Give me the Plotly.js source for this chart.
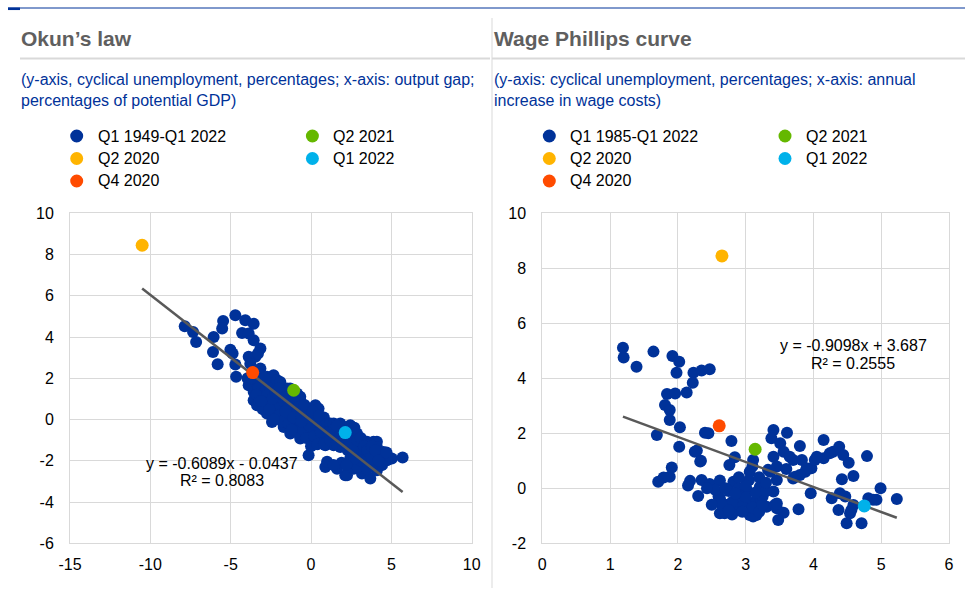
<!DOCTYPE html>
<html><head><meta charset="utf-8">
<script src="https://cdn.plot.ly/plotly-3.0.1.min.js"></script>
<style>html,body{margin:0;padding:0;background:#fff}#chart{width:965px;height:592px}</style>
</head><body><div id="chart"></div>
<script>
// ---------- DATA ----------
const okunMainName = 'Q1 1949-Q1 2022';
const phillipsMainName = 'Q1 1985-Q1 2022';
const highlightNames = ['Q2 2020', 'Q4 2020', 'Q2 2021', 'Q1 2022'];
const highlightColors = ['#FFB400', '#FF4B00', '#65B800', '#00B1EA'];
const mainColor = '#003299';

// [output gap, cyclical unemployment]
const okunMain = [
[-7.86,4.52],[-7.34,4.25],[-7.15,3.76],[-6.06,4.0],[-5.47,4.78],[-5.53,4.41],[-6.1,3.28],[-5.81,2.68],
[-5.02,3.39],[-4.88,3.2],[-4.71,2.67],[-4.66,2.07],[-4.71,5.06],[-4.09,4.81],[-3.57,4.65],[-4.29,4.2],
[-3.88,4.17],[-3.57,3.84],[-3.15,3.44],[-3.46,3.04],[-3.88,3.04],[-3.78,2.71],[-3.15,2.47],[-3.3,3.2],
[-3.6,2.3],[-3.88,1.66],[-3.57,1.34],[-3.95,2.0],[-3.4,1.9],[-3.2,2.2],[-3.0,1.8],[-3.3,1.5],
[-3.57,0.94],[-3.36,0.69],[-3.1,1.2],[-2.9,1.0],[-2.8,1.5],[-2.74,2.07],[-2.33,2.15],[-2.6,1.7],
[-2.5,1.2],[-2.3,1.6],[-2.1,1.9],[-1.91,1.82],[-2.74,0.29],[-2.5,0.7],[-2.43,-0.12],[-2.2,0.4],
[-2.1,1.0],[-2.0,0.6],[-1.8,1.3],[-1.7,0.9],[-1.9,0.2],[-1.7,-0.36],[-1.5,0.1],[-1.4,0.6],
[-1.5,1.5],[-1.3,1.1],[-1.2,0.4],[-1.29,-0.68],[-1.1,-0.2],[-1.0,0.8],[-0.87,1.26],[-0.67,1.1],
[-0.67,0.94],[-0.9,0.3],[-0.8,-0.4],[-0.67,-0.92],[-0.5,0.5],[-0.4,-0.1],[-0.3,0.3],[-0.15,0.45],
[0.27,0.69],[0.47,0.53],[0.06,-1.08],[0.58,-1.0],[0.0,0.1],[0.1,-0.4],[0.3,0.1],[-0.2,-0.7],
[0.4,-0.5],[0.6,-0.2],[0.8,0.1],[0.9,-0.6],[1.0,-0.2],[0.7,-0.9],[-0.15,-1.73],[0.89,-1.25],
[1.2,-0.19],[1.41,-0.19],[1.82,-0.19],[2.24,-0.36],[1.41,-1.25],[1.5,-0.6],[1.7,-0.9],[1.9,-0.5],
[2.1,-1.0],[1.3,-0.9],[2.44,-0.28],[2.65,-0.68],[2.86,-0.68],[2.5,-1.2],[2.8,-1.1],[1.82,-1.33],
[2.3,-1.5],[2.85,-1.57],[3.0,-1.3],[3.27,-1.08],[3.48,-1.08],[3.89,-1.08],[4.1,-1.08],[4.1,-1.33],
[4.51,-1.57],[4.93,-1.89],[5.03,-1.89],[5.7,-1.84],[4.73,-1.97],[3.48,-1.73],[3.2,-1.5],[3.7,-1.4],
[3.9,-1.7],[4.3,-1.8],[0.89,-2.3],[1.0,-2.05],[1.62,-2.38],[2.13,-2.7],[2.24,-2.7],[2.65,-2.38],
[3.17,-2.62],[3.69,-2.86],[4.1,-2.46],[4.42,-2.21],[2.44,-1.89],[3.27,-2.05],[3.89,-2.13],[2.9,-2.3],
[3.5,-2.4],[1.9,-2.1],
[-3.7,2.0],[-3.4,1.2],[-3.2,0.9],[-3.0,0.5],[-2.9,2.0],[-2.7,1.2],[-2.6,0.5],[-2.4,1.0],
[-2.2,1.3],[-2.0,1.5],[-2.0,0.2],[-1.8,-0.1],[-1.6,1.1],[-1.6,0.4],[-1.4,-0.2],[-1.3,1.5],
[-1.1,0.1],[-1.0,1.1],[-0.9,-0.6],[-0.8,0.6],[-0.6,0.2],[-0.5,-0.5],[-0.4,0.7],[-0.3,-0.9],
[-0.1,-0.3],[0.0,-1.3],[0.1,0.4],[0.2,-0.8],[0.4,-1.2],[0.5,0.2],[0.6,-0.6],[0.8,-1.2],
[1.1,-0.6],[1.2,-1.0],[1.4,-0.5],[1.6,-1.2],[1.6,-0.3],[1.8,-0.8],[2.0,-1.3],[2.2,-0.7],
[2.4,-1.0],[2.6,-1.5],[2.7,-0.4],[2.9,-1.0],[3.1,-0.9],[3.3,-1.3],[3.5,-1.5],[3.6,-1.9],
[3.8,-1.3],[4.0,-1.5],[4.2,-2.0],[3.1,-2.0],[2.7,-1.9],[2.2,-2.2],[1.4,-2.2],[4.7,-1.6],
[-0.6,-0.1],[-1.2,-0.5],[-2.3,0.0],[-3.1,0.9]
];
// Q2 2020, Q4 2020, Q2 2021, Q1 2022
const okunHighlights = [[-10.51,8.45],[-3.63,2.28],[-1.08,1.42],[2.13,-0.63]];

// [annual increase in wage costs, cyclical unemployment]
const phillipsMain = [
[1.19,5.11],[1.2,4.76],[1.39,4.42],[1.64,4.97],[1.92,4.81],[2.02,4.6],[1.98,4.2],[2.23,4.2],
[2.35,4.28],[2.47,4.33],[2.22,3.84],[1.84,3.43],[1.96,3.45],[2.13,3.48],[1.81,3.03],[1.88,2.85],
[1.88,2.48],[2.03,2.22],[1.69,1.94],[2.45,2.0],[2.79,1.72],[2.02,1.51],[2.28,1.37],[2.34,1.0],
[2.84,1.13],[2.76,0.85],[3.11,1.03],[3.06,0.6],[1.91,0.76],[1.88,0.42],[1.79,0.39],[1.71,0.24],
[2.18,0.27],[2.35,0.3],[2.3,-0.28],[2.47,0.16],[2.62,0.28],[2.62,-0.36],[2.62,-0.91],[2.69,-0.91],
[2.82,0.24],[2.87,-0.36],[2.87,-0.79],[3.02,-0.06],[3.06,-0.97],[3.16,-0.97],[3.21,0.06],[3.16,-0.42],
[3.31,-0.67],[3.41,-0.12],[3.43,-0.61],[3.56,-0.89],[3.48,-1.15],[3.78,-0.76],[2.6,-0.3],[3.11,-1.03],
[3.06,-0.55],[3.46,-0.73],[3.46,-0.55],[2.75,-0.1],[2.95,-0.5],[2.7,-0.6],[3.0,-0.3],[2.9,0.0],
[3.1,-0.7],[3.25,-0.3],[2.8,-0.95],[2.55,-0.05],[3.05,0.3],[3.1,0.8],[3.2,-0.85],[3.41,2.12],
[3.38,1.82],[3.61,2.02],[3.51,1.64],[3.8,1.54],[3.41,1.15],[3.56,1.33],[3.65,1.15],[3.33,0.67],
[3.46,0.79],[3.46,0.3],[3.73,0.42],[3.83,1.03],[3.88,0.6],[3.97,0.73],[4.02,1.03],[4.15,1.76],
[4.15,1.09],[4.29,1.33],[4.38,1.51],[4.44,1.21],[4.52,0.93],[4.79,1.17],[4.42,0.33],[4.59,0.45],
[3.36,0.6],[3.7,1.03],[3.9,0.73],[3.8,0.48],[3.7,0.36],[4.05,1.15],[4.24,1.27],[3.6,0.7],
[3.96,-0.18],[4.27,-0.36],[4.39,-0.18],[4.47,-0.3],[4.37,-0.79],[4.54,-0.91],[4.49,-1.27],[4.71,-1.27],
[4.59,-0.61],[4.81,-0.36],[4.93,-0.42],[4.99,0.0],[5.23,-0.39],[4.88,-0.42],[4.56,-0.79],[2.25,1.33],
[2.33,0.97],[2.43,0.0],[2.15,0.1],[2.4,2.02],[2.7,0.0],[2.8,-0.5],
[2.65,-0.6],[2.75,-0.8],[2.85,-0.2],[2.95,-0.85],[3.0,0.1],[3.15,-0.15],[3.25,-0.6],[3.3,-0.1],
[2.5,-0.6],[2.9,0.4],[3.2,0.4],[3.3,0.2]
];
const phillipsHighlights = [[2.65,8.45],[2.61,2.27],[3.14,1.42],[4.75,-0.64]];

const okunTrend = {slope: -0.6089, intercept: -0.0437, r2: 0.8083};
const phillipsTrend = {slope: -0.9098, intercept: 3.687, r2: 0.2555};

const titles = ['Okun’s law', 'Wage Phillips curve'];
const subtitles = [
  '(y-axis, cyclical unemployment, percentages; x-axis: output gap;<br>percentages of potential GDP)',
  '(y-axis: cyclical unemployment, percentages; x-axis: annual<br>increase in wage costs)'
];
const xTicks = [[-15,-10,-5,0,5,10],[0,1,2,3,4,5,6]];
const yTicks = [[-6,-4,-2,0,2,4,6,8,10],[-2,0,2,4,6,8,10]];

// ---------- RENDER ----------
const W = 965, H = 592;
const FONT = 'Arial, "Liberation Sans", sans-serif';
const px = x => x / W;
const py = y => 1 - y / H;

function eqText(t) {
  return 'y = ' + t.slope + 'x ' + (t.intercept < 0 ? '- ' : '+ ') + Math.abs(t.intercept);
}

function panelTraces(main, highs, trend, xa, ya, mainName) {
  const tr = [];
  tr.push({x: main.map(p => p[0]), y: main.map(p => p[1]), type: 'scatter', mode: 'markers',
    xaxis: xa, yaxis: ya, name: mainName, showlegend: false,
    marker: {color: mainColor, size: 12, line: {width: 0}}, hoverinfo: 'x+y'});
  const allX = main.concat(highs).map(p => p[0]);
  const xmin = Math.min(...allX), xmax = Math.max(...allX);
  tr.push({x: [xmin, xmax], y: [xmin, xmax].map(v => trend.slope * v + trend.intercept),
    type: 'scatter', mode: 'lines', xaxis: xa, yaxis: ya, showlegend: false,
    line: {color: '#595959', width: 2.5}, hoverinfo: 'skip'});
  highs.forEach((p, i) => tr.push({x: [p[0]], y: [p[1]], type: 'scatter', mode: 'markers',
    xaxis: xa, yaxis: ya, name: highlightNames[i], showlegend: false,
    marker: {color: highlightColors[i], size: 13, line: {width: 0}}}));
  return tr;
}

const data = [].concat(
  panelTraces(okunMain, okunHighlights, okunTrend, 'x', 'y', okunMainName),
  panelTraces(phillipsMain, phillipsHighlights, phillipsTrend, 'x2', 'y2', phillipsMainName)
);

const shapes = [];
const annotations = [];
const line = (x0, y0, x1, y1, color, width) => shapes.push({type: 'line', xref: 'paper', yref: 'paper',
  x0: px(x0), y0: py(y0), x1: px(x1), y1: py(y1), line: {color: color, width: width}});

// frame decorations
line(8, 8, 965, 8, '#003299', 1);
line(8, 8.8, 20, 8.8, '#003299', 2.5);
line(20, 58.5, 490, 58.5, '#d9d9d9', 2);
line(492, 58.5, 965, 58.5, '#d9d9d9', 2);
line(492, 18, 492, 588, '#d9d9d9', 1);

const panels = [
  {left: 20, dotX: 76.7, textX: 96.7, mainName: okunMainName},
  {left: 493, dotX: 549.3, textX: 569, mainName: phillipsMainName}
];
const colStep = 235.7, rowY = [136, 158.5, 181];

panels.forEach((p, k) => {
  annotations.push({xref: 'paper', yref: 'paper', x: px(p.left), y: py(38.5), xanchor: 'left', yanchor: 'middle',
    text: '<b>' + titles[k] + '</b>', showarrow: false, borderpad: 0,
    font: {family: FONT, size: 21, color: '#5f5f5f'}});
  annotations.push({xref: 'paper', yref: 'paper', x: px(p.left), y: py(90.5), xanchor: 'left', yanchor: 'middle',
    text: subtitles[k], showarrow: false, align: 'left', borderpad: 0,
    font: {family: FONT, size: 16, color: '#003299'}});
  const entries = [{name: p.mainName, color: mainColor}].concat(
    highlightNames.map((n, i) => ({name: n, color: highlightColors[i]})));
  entries.forEach((e, i) => {
    const col = i < 3 ? 0 : 1, row = i < 3 ? i : i - 3;
    const cx = p.dotX + col * colStep, cy = rowY[row], r = 6.5;
    shapes.push({type: 'circle', xref: 'paper', yref: 'paper', x0: px(cx - r), x1: px(cx + r),
      y0: py(cy + r), y1: py(cy - r), fillcolor: e.color, line: {width: 0}});
    annotations.push({xref: 'paper', yref: 'paper', x: px(p.textX + col * colStep), y: py(cy), xanchor: 'left',
      yanchor: 'middle', text: e.name, showarrow: false, borderpad: 0,
      font: {family: FONT, size: 16, color: '#000'}});
  });
});

// trend equations
[[okunTrend, 221.7, 463.3, 480], [phillipsTrend, 853, 345.7, 363.3]].forEach(a => {
  annotations.push({xref: 'paper', yref: 'paper', x: px(a[1]), y: py(a[2]), xanchor: 'center', yanchor: 'middle',
    text: eqText(a[0]), showarrow: false, borderpad: 0, font: {family: FONT, size: 16, color: '#000'}});
  annotations.push({xref: 'paper', yref: 'paper', x: px(a[1]), y: py(a[3]), xanchor: 'center', yanchor: 'middle',
    text: 'R² = ' + a[0].r2, showarrow: false, borderpad: 0, font: {family: FONT, size: 16, color: '#000'}});
});

const axCommon = {showgrid: true, gridcolor: '#d9d9d9', gridwidth: 1, zeroline: false,
  showline: true, linecolor: '#d9d9d9', linewidth: 1, mirror: true,
  tickfont: {family: FONT, size: 16, color: '#000'}, tickmode: 'array', fixedrange: true,
  ticks: 'outside', tickcolor: 'rgba(0,0,0,0)'};
const tt = arr => arr.map(v => String(v));

const layout = {
  width: W, height: H, margin: {l: 0, r: 0, t: 0, b: 0}, paper_bgcolor: '#fff', plot_bgcolor: '#fff',
  showlegend: false, font: {family: FONT},
  xaxis: Object.assign({}, axCommon, {domain: [px(70), px(471.7)], range: [-15, 10], tickvals: xTicks[0], ticktext: tt(xTicks[0]), ticklen: 6, anchor: 'y'}),
  yaxis: Object.assign({}, axCommon, {domain: [py(543.3), py(213.3)], range: [-6, 10], tickvals: yTicks[0], ticktext: tt(yTicks[0]), ticklen: 12, anchor: 'x'}),
  xaxis2: Object.assign({}, axCommon, {domain: [px(542.3), px(949)], range: [0, 6], tickvals: xTicks[1], ticktext: tt(xTicks[1]), ticklen: 6, anchor: 'y2'}),
  yaxis2: Object.assign({}, axCommon, {domain: [py(543.3), py(213.3)], range: [-2, 10], tickvals: yTicks[1], ticktext: tt(yTicks[1]), ticklen: 12, anchor: 'x2'}),
  shapes: shapes, annotations: annotations
};

Plotly.newPlot('chart', data, layout, {displayModeBar: false, staticPlot: true});
</script>
</body></html>
